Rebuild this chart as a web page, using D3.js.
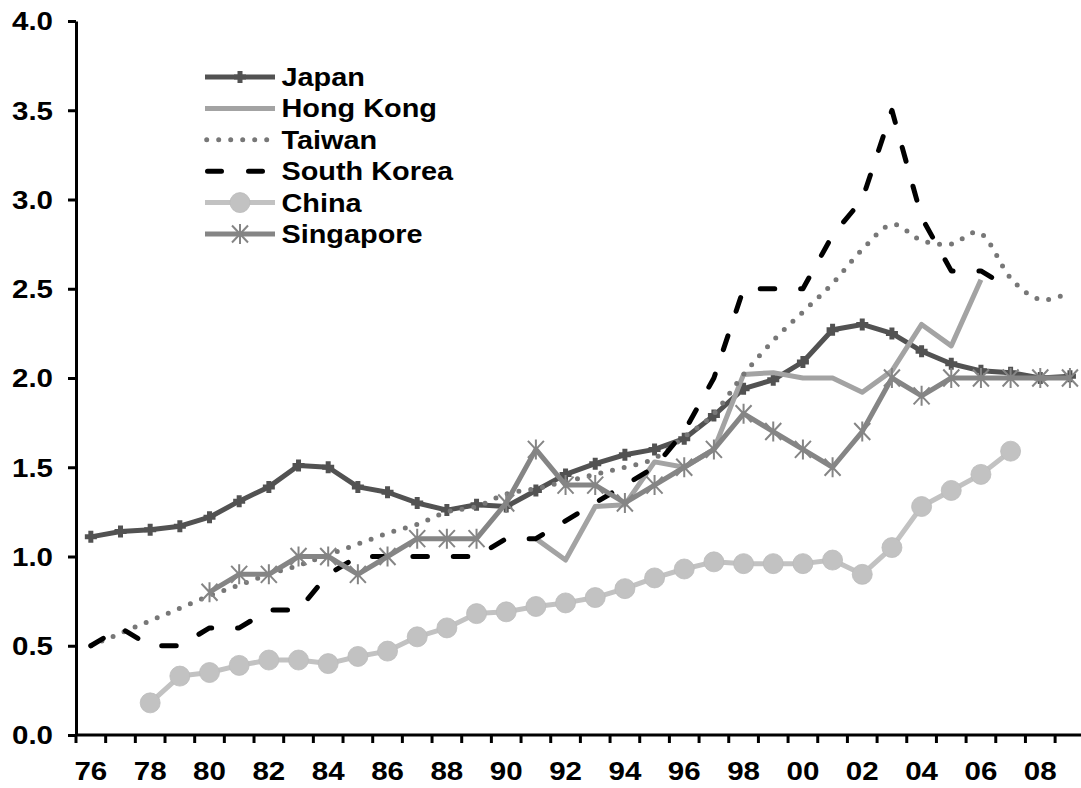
<!DOCTYPE html>
<html>
<head>
<meta charset="utf-8">
<script src="https://cdn.jsdelivr.net/npm/d3@7"></script>
<style>
  body { margin: 0; background: #fff; }
  svg { display: block; }
  text { font-family: "Liberation Sans", Arial, sans-serif; font-weight: bold; fill: #000; }
</style>
</head>
<body>
<div id="chart"></div>
<script>
// categories (two digit years, 1976 - 2009)
var years = ["76","77","78","79","80","81","82","83","84","85",
             "86","87","88","89","90","91","92","93","94","95",
             "96","97","98","99","00","01","02","03","04","05",
             "06","07","08","09"];
var xLabels = ["76","78","80","82","84","86","88","90","92","94","96","98","00","02","04","06","08"];
var yTicks = [0, 0.5, 1, 1.5, 2, 2.5, 3, 3.5, 4];

var seriesNames = ["Japan", "Hong Kong", "Taiwan", "South Korea", "China", "Singapore"];

var japan = [1.11,1.14,1.15,1.17,1.22,1.31,1.39,1.51,1.50,1.39,
             1.36,1.30,1.26,1.29,1.28,1.37,1.46,1.52,1.57,1.60,
             1.66,1.79,1.94,1.99,2.09,2.27,2.30,2.25,2.15,2.08,
             2.04,2.03,2.00,2.01];
var hongKong = [null,null,null,null,null,null,null,null,null,null,
                null,null,null,null,null,1.10,0.98,1.28,1.29,1.53,
                1.50,1.60,2.02,2.03,2.00,2.00,1.92,2.04,2.30,2.18,
                2.55,null,null,null];
var taiwan = [0.50,0.57,0.64,0.71,0.78,0.84,0.90,0.95,1.01,1.07,
              1.13,1.18,1.25,1.28,1.35,1.38,1.42,1.46,1.50,1.55,
              1.67,1.80,2.02,2.21,2.37,2.53,2.72,2.86,2.77,2.75,
              2.81,2.56,2.44,2.48];
var southKorea = [0.5,0.6,0.5,0.5,0.6,0.6,0.7,0.7,0.9,1.0,
                  1.0,1.0,1.0,1.0,1.1,1.1,1.2,1.3,1.4,1.5,
                  1.7,2.0,2.5,2.5,2.5,2.8,3.0,3.5,2.9,2.6,
                  2.6,2.5,null,null];
var china = [null,null,0.18,0.33,0.35,0.39,0.42,0.42,0.40,0.44,
             0.47,0.55,0.60,0.68,0.69,0.72,0.74,0.77,0.82,0.88,
             0.93,0.97,0.96,0.96,0.96,0.98,0.90,1.05,1.28,1.37,
             1.46,1.59,null,null];
var singapore = [null,null,null,null,0.8,0.9,0.9,1.0,1.0,0.9,
                 1.0,1.1,1.1,1.1,1.3,1.6,1.4,1.4,1.3,1.4,
                 1.5,1.6,1.8,1.7,1.6,1.5,1.7,2.0,1.9,2.0,
                 2.0,2.0,2.0,2.0];

var series = [
  {name: seriesNames[0], values: japan,      color: "#525252", marker: "plus"},
  {name: seriesNames[1], values: hongKong,   color: "#a3a3a3"},
  {name: seriesNames[2], values: taiwan,     color: "#777777", dash: "0 12", smooth: true},
  {name: seriesNames[3], values: southKorea, color: "#000000", dash: "14.5 25.9"},
  {name: seriesNames[4], values: china,      color: "#c2c2c2", marker: "circle"},
  {name: seriesNames[5], values: singapore,  color: "#858585", marker: "asterisk"}
];

var width = 1081, height = 788,
    left = 76, bandW = 29.67;

var svg = d3.select("#chart").append("svg")
    .attr("width", width)
    .attr("height", height);

svg.append("rect").attr("width", width).attr("height", height).attr("fill", "#fff");

var x = d3.scaleBand()
    .domain(years)
    .range([left, left + bandW * years.length])
    .padding(0);

var y = d3.scaleLinear()
    .domain([0, 4])
    .range([735, 21]);

function cx(i) { return x(years[i]) + x.bandwidth() / 2; }

// y axis
var yAxis = svg.append("g")
    .attr("class", "axis axis-y")
    .attr("transform", "translate(" + left + ",0)")
    .call(d3.axisLeft(y).tickValues(yTicks).tickSizeInner(8).tickSizeOuter(0).tickFormat(d3.format(".1f")));

yAxis.select(".domain").attr("stroke", "#000").attr("stroke-width", 3);
yAxis.selectAll(".tick line").attr("stroke", "#000").attr("stroke-width", 3);
yAxis.selectAll(".tick text")
    .attr("x", 0)
    .attr("dy", "0.35em")
    .attr("transform", "translate(-23,0) scale(1.18,1)")
    .style("font-size", "25px");

// x axis: ticks sit on band edges, labels in band centres
var xAxis = svg.append("g")
    .attr("class", "axis axis-x")
    .attr("transform", "translate(0,735)");

xAxis.append("line")
    .attr("x1", left).attr("x2", width)
    .attr("stroke", "#000").attr("stroke-width", 3);

xAxis.selectAll(".xtick")
    .data(years)
  .enter().append("line")
    .attr("class", "xtick")
    .attr("x1", function(d) { return x(d); })
    .attr("x2", function(d) { return x(d); })
    .attr("y1", 0).attr("y2", 8)
    .attr("stroke", "#000").attr("stroke-width", 3);

xAxis.selectAll(".xlabel")
    .data(xLabels)
  .enter().append("text")
    .attr("class", "xlabel")
    .attr("transform", function(d) { return "translate(" + (x(d) + x.bandwidth() / 2) + ",45) scale(1.18,1)"; })
    .attr("text-anchor", "middle")
    .style("font-size", "25px")
    .text(function(d) { return d; });

// series
var plot = svg.append("g").attr("class", "plot");

var plusPath = "M-6,0H6M0,-6V6",
    starPath = "M0,-10V10M-8,-8.5L8,8.5M-8,8.5L8,-8.5";

function drawMarker(g, type, color, px, py) {
  if (type === "plus") {
    g.append("path").attr("d", plusPath)
        .attr("transform", "translate(" + px + "," + py + ")")
        .attr("fill", "none").attr("stroke", color).attr("stroke-width", 5);
  } else if (type === "circle") {
    g.append("circle").attr("cx", px).attr("cy", py).attr("r", 10)
        .attr("fill", color).attr("stroke", "#bbbbbb").attr("stroke-width", 0.8);
  } else if (type === "asterisk") {
    g.append("path").attr("d", starPath)
        .attr("transform", "translate(" + px + "," + py + ")")
        .attr("fill", "none").attr("stroke", color).attr("stroke-width", 2);
  }
}

series.forEach(function(s) {
  var line = d3.line()
      .defined(function(d) { return d != null; })
      .x(function(d, i) { return cx(i); })
      .y(function(d) { return y(d); })
      .curve(s.smooth ? d3.curveCatmullRom.alpha(0) : d3.curveLinear);

  var g = plot.append("g").attr("class", "series");

  g.append("path")
      .datum(s.values)
      .attr("d", line)
      .attr("fill", "none")
      .attr("stroke", s.color)
      .attr("stroke-width", 5)
      .attr("stroke-linejoin", "round")
      .attr("stroke-linecap", s.dash ? "round" : "butt")
      .attr("stroke-dasharray", s.dash || null);

  if (s.marker) {
    s.values.forEach(function(v, i) {
      if (v != null) drawMarker(g, s.marker, s.color, cx(i), y(v));
    });
  }
});

// legend
var legend = svg.append("g").attr("class", "legend");

series.forEach(function(s, i) {
  var ry = 77 + i * 31.4;
  var row = legend.append("g");
  row.append("line")
      .attr("x1", s.dash === "0 12" ? 206.7 : (s.dash ? 207.5 : 205))
      .attr("x2", s.dash === "0 12" ? 270 : (s.dash ? 272.5 : 275))
      .attr("y1", ry).attr("y2", ry)
      .attr("stroke", s.color)
      .attr("stroke-width", 5)
      .attr("stroke-linecap", s.dash ? "round" : "butt")
      .attr("stroke-dasharray", s.dash === "0 12" ? "0 12" : (s.dash ? "14 27" : null));
  if (s.marker) drawMarker(row, s.marker, s.color, 240, ry);
  row.append("text")
      .attr("transform", "translate(281.5," + (ry + 9) + ") scale(1.11,1)")
      .style("font-size", "26px")
      .text(s.name);
});
</script>
</body>
</html>
